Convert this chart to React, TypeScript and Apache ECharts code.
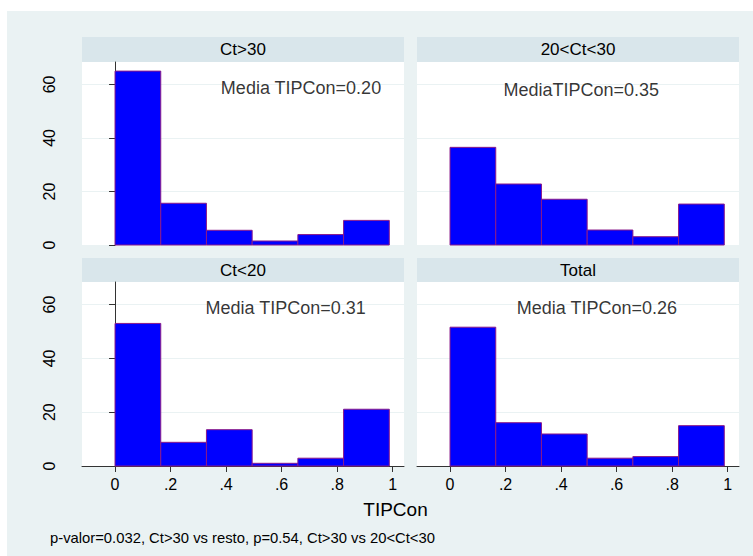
import React, { useEffect, useRef } from "react";
import * as echarts from "echarts";

const panelTitles = ["Ct>30", "20<Ct<30", "Ct<20", "Total"];
const binEdges = [0, 0.1647, 0.3293, 0.494, 0.6587, 0.8233, 0.988];
const pctCtOver30 = [65, 15.6, 5.5, 1.5, 3.9, 9.2];
const pctCt20to30 = [36.5, 22.8, 17.1, 5.6, 3.1, 15.3];
const pctCtUnder20 = [53, 8.8, 13.5, 1.0, 2.9, 21.1];
const pctTotal = [51.6, 16.1, 11.9, 2.9, 3.5, 15.0];
const meanLabels = ["Media TIPCon=0.20", "MediaTIPCon=0.35", "Media TIPCon=0.31", "Media TIPCon=0.26"];
const meanLabelX = [0.67, 0.473, 0.615, 0.529];
const meanLabelY = [58.7, 58.1, 58.8, 58.8];
const xTickValues = [0, 0.2, 0.4, 0.6, 0.8, 1];
const yTickValues = [0, 20, 40, 60];
const xTitle = "TIPCon";
const note = "p-valor=0.032, Ct>30 vs resto, p=0.54, Ct>30 vs 20<Ct<30";

const FONT = "'Liberation Sans', Arial, sans-serif";

export default function App() {
  const ref = useRef<HTMLDivElement>(null);
  useEffect(() => {
    if (!ref.current) return;
    const chart = echarts.init(ref.current, null, { renderer: "svg" });
    const panels = [pctCtOver30, pctCt20to30, pctCtUnder20, pctTotal];
    const grids = [
      { left: 82, top: 62, width: 322, height: 183 },
      { left: 417, top: 62, width: 322, height: 183 },
      { left: 82, top: 282, width: 322, height: 184 },
      { left: 417, top: 282, width: 322, height: 184 },
    ];
    const axisColor = "#333";
    const fmtX = (v: number) => {
      const r = Math.round(v * 10) / 10;
      if (r === 0) return "0";
      if (r === 1) return "1";
      return String(r).replace(/^0/, "");
    };
    const xAxes = grids.map((_, i) => {
      const bottom = i >= 2;
      return {
        type: "value",
        gridIndex: i,
        min: -0.119,
        max: 1.041,
        splitLine: { show: false },
        axisLine: { show: bottom, onZero: false, lineStyle: { color: axisColor, width: 1 } },
        axisTick: { show: bottom, length: 6, customValues: xTickValues, lineStyle: { color: axisColor } },
        axisLabel: {
          show: bottom,
          customValues: xTickValues,
          formatter: fmtX,
          fontSize: 16,
          color: "#000",
          fontFamily: FONT,
          margin: 10,
        },
      };
    });
    const yAxes = grids.map((_, i) => {
      const left = i % 2 === 0;
      return {
        type: "value",
        gridIndex: i,
        min: 0,
        max: 68.4,
        interval: 20,
        splitLine: { show: true, lineStyle: { color: "#EAF2F3", width: 1 } },
        axisLine: { show: left, lineStyle: { color: axisColor, width: 1 } },
        axisTick: { show: left, length: 6, customValues: yTickValues, lineStyle: { color: axisColor } },
        axisLabel: {
          show: left,
          customValues: yTickValues,
          rotate: 90,
          fontSize: 16,
          color: "#000",
          fontFamily: FONT,
          margin: 25,
        },
      };
    });
    const barSeries = panels.map((vals, i) => ({
      type: "custom",
      xAxisIndex: i,
      yAxisIndex: i,
      silent: true,
      data: vals.map((v, k) => [binEdges[k], binEdges[k + 1], v]),
      encode: { x: [0, 1], y: 2 },
      renderItem: (params: any, api: any) => {
        const p0 = api.coord([api.value(0), 0]);
        const p1 = api.coord([api.value(1), api.value(2)]);
        return {
          type: "rect",
          shape: { x: p0[0], y: p1[1], width: p1[0] - p0[0], height: p0[1] - p1[1] },
          style: { fill: "#0000FF", stroke: "#8A1A8A", lineWidth: 1 },
        };
      },
    }));
    const labelSeries = panels.map((_, i) => ({
      type: "scatter",
      xAxisIndex: i,
      yAxisIndex: i,
      silent: true,
      symbolSize: 0,
      data: [{ value: [meanLabelX[i], meanLabelY[i]], name: meanLabels[i] }],
      label: {
        show: true,
        position: "inside",
        formatter: "{b}",
        fontSize: 18,
        color: "#000",
        fontFamily: FONT,
      },
    }));
    const graphics: any[] = [
      { type: "rect", shape: { x: 0, y: 0, width: 753, height: 11 }, style: { fill: "#fff" }, silent: true },
      { type: "rect", shape: { x: 0, y: 0, width: 7, height: 556 }, style: { fill: "#fff" }, silent: true },
    ];
    grids.forEach((g, i) => {
      const top = i < 2 ? 37 : 258;
      const h = g.top - top;
      graphics.push({
        type: "rect",
        shape: { x: g.left, y: top, width: g.width, height: h },
        style: { fill: "#D9E6EB" },
        silent: true,
      });
      graphics.push({
        type: "text",
        x: g.left + g.width / 2,
        y: top + h / 2,
        style: {
          text: panelTitles[i],
          fontSize: 17,
          fill: "#000",
          fontFamily: FONT,
          align: "center",
          verticalAlign: "middle",
        },
        silent: true,
      });
    });
    graphics.push({
      type: "text",
      x: 395.5,
      y: 509.5,
      style: { text: xTitle, fontSize: 19, fill: "#000", fontFamily: FONT, align: "center", verticalAlign: "middle" },
      silent: true,
    });
    graphics.push({
      type: "text",
      x: 50,
      y: 537.5,
      style: { text: note, fontSize: 14.8, fill: "#000", fontFamily: FONT, align: "left", verticalAlign: "middle" },
      silent: true,
    });
    chart.setOption({
      animation: false,
      backgroundColor: "#EAF2F3",
      grid: grids.map((g) => ({ ...g, show: true, backgroundColor: "#fff", borderWidth: 0, containLabel: false })),
      xAxis: xAxes,
      yAxis: yAxes,
      series: [...barSeries, ...labelSeries],
      graphic: graphics,
    });
    return () => chart.dispose();
  }, []);
  return <div ref={ref} style={{ position: "fixed", left: 0, top: 0, width: 753, height: 556 }} />;
}
